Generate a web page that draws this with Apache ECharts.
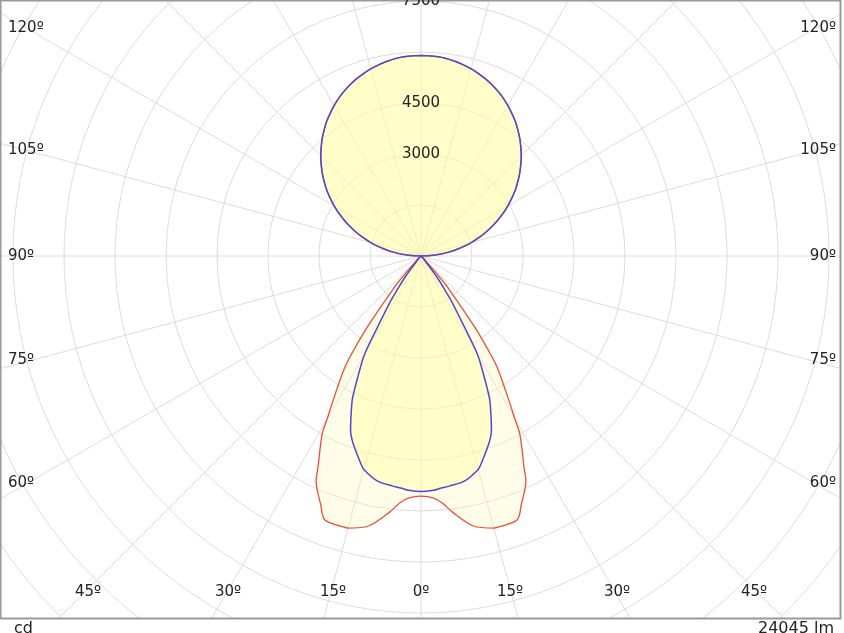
<!DOCTYPE html>
<html>
<head>
<meta charset="utf-8">
<script src="https://cdn.jsdelivr.net/npm/echarts@6/dist/echarts.min.js"></script>
<style>html,body{margin:0;padding:0;background:#fff}#main{width:844px;height:633px}</style>
</head>
<body>
<div id="main"></div>
<script>
// photometric angles (deg, 0 = straight down) and intensities (cd)
var lowerAngles = [0, 3, 5, 7, 11, 15, 16, 20, 22, 25, 26, 29, 30, 31, 34, 35, 37, 40, 41, 45, 50, 60, 70, 80, 90];
var redLower    = [7060, 7130, 7300, 7590, 8090, 8285, 8290, 8265, 7880, 7300, 6910, 6000, 5500, 5100, 4090, 3700, 2650, 1300, 1090, 200, 0, 0, 0, 0, 0];
var blueLower   = [6930, 6900, 6850, 6820, 6740, 6500, 6380, 5850, 5530, 4820, 4550, 3600, 3270, 2680, 1600, 1250, 800, 200, 120, 0, 0, 0, 0, 0, 0];
var upperAngles = [92, 95, 98, 100, 103, 105, 108, 110, 113, 115, 118, 120, 123, 125, 128, 130, 133, 135, 138, 140, 143, 145, 148, 150, 153, 155, 158, 160, 163, 165, 168, 170, 173, 175, 178, 180];
var upperValues = [205, 515, 820, 1025, 1330, 1530, 1820, 2020, 2300, 2490, 2770, 2950, 3210, 3385, 3630, 3790, 4020, 4170, 4380, 4520, 4710, 4835, 5000, 5110, 5260, 5350, 5470, 5545, 5640, 5700, 5770, 5810, 5860, 5880, 5895, 5900];
var ringLabels = ['3000', '4500', '7500'];
var ringValues = [3000, 4500, 7500];

function loop(lower) {
    var ang = lowerAngles.concat(upperAngles), val = lower.concat(upperValues);
    var half = [];
    for (var i = 0; i < ang.length; i++) half.push([val[i], ang[i]]);
    half.sort(function (a, b) { return a[1] - b[1]; });
    var out = [];
    for (var j = half.length - 1; j >= 0; j--) out.push([half[j][0], half[j][1]]);
    for (var k = 1; k < half.length; k++) out.push([half[k][0], 360 - half[k][1]]);
    return out;
}

var chart = echarts.init(document.getElementById('main'));
var scale = 0.034; // px per cd
var sideLabels = ['120º', '105º', '90º', '75º', '60º'];
var sideY = [30, 152, 258, 362, 485];
var bottomLabels = ['45º', '30º', '15º', '0º', '15º', '30º', '45º'];
var bottomX = [88, 228, 333, 421, 510, 617, 754];
var graphics = [];
sideLabels.forEach(function (t, i) {
    graphics.push({type: 'text', left: 8, top: sideY[i] - 9, z: 100, style: {text: t, font: '15px DejaVu Sans', fill: '#222'}});
    graphics.push({type: 'text', right: 8, top: sideY[i] - 9, z: 100, style: {text: t, font: '15px DejaVu Sans', fill: '#222'}});
});
bottomLabels.forEach(function (t, i) {
    graphics.push({type: 'text', x: bottomX[i], y: 592, z: 100, style: {text: t, font: '15px DejaVu Sans', fill: '#222', align: 'center', verticalAlign: 'middle'}});
});
ringLabels.forEach(function (t, i) {
    graphics.push({type: 'text', x: 421, y: 256 - ringValues[i] * scale, z: 100, style: {text: t, font: '15px DejaVu Sans', fill: '#222', align: 'center', verticalAlign: 'middle'}});
});
graphics.push({type: 'rect', shape: {x: 0, y: 619, width: 844, height: 20}, z: 90, style: {fill: '#fff'}});
graphics.push({type: 'rect', shape: {x: 841, y: 0, width: 10, height: 633}, z: 90, style: {fill: '#fff'}});
graphics.push({type: 'rect', shape: {x: 0.5, y: 0.5, width: 840, height: 618}, z: 95, style: {fill: 'none', stroke: '#999', lineWidth: 2}});
graphics.push({type: 'text', left: 14, top: 621, z: 100, style: {text: 'cd', font: '16px DejaVu Sans', fill: '#222'}});
graphics.push({type: 'text', right: 10, top: 621, z: 100, style: {text: '24045 lm', font: '16px DejaVu Sans', fill: '#222'}});

chart.setOption({
    animation: false,
    polar: {center: [421, 256], radius: 24000 * scale},
    angleAxis: {
        type: 'value', min: 0, max: 360, interval: 15, startAngle: 270,
        axisLine: {show: false}, axisTick: {show: false}, axisLabel: {show: false},
        splitLine: {lineStyle: {color: '#dcdcdc', width: 1}}
    },
    radiusAxis: {
        type: 'value', min: 0, max: 24000, interval: 1500,
        axisLine: {show: false}, axisTick: {show: false}, axisLabel: {show: false},
        splitLine: {lineStyle: {color: '#dcdcdc', width: 1}}
    },
    graphic: graphics,
    series: [
        {
            type: 'line', coordinateSystem: 'polar', data: loop(redLower), symbol: 'none', smooth: 0.3,
            lineStyle: {color: '#e8503c', width: 1.3},
            areaStyle: {color: 'rgba(255,245,180,0.45)'}
        },
        {
            type: 'line', coordinateSystem: 'polar', data: loop(blueLower), symbol: 'none', smooth: 0.3,
            lineStyle: {color: '#5048d0', width: 1.5},
            areaStyle: {color: 'rgba(255,255,150,0.55)'}
        }
    ]
});
</script>
</body>
</html>
